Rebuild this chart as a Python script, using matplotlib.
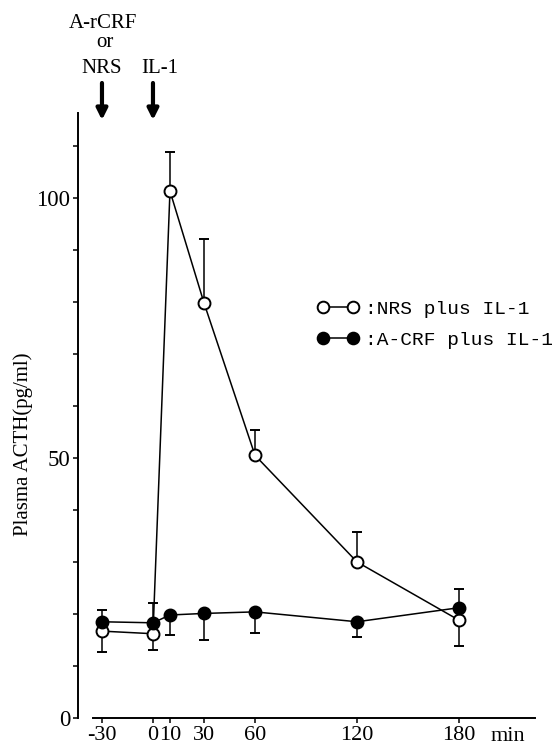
import matplotlib
matplotlib.use("Agg")
import matplotlib.pyplot as plt
from matplotlib.lines import Line2D
from matplotlib.font_manager import FontProperties
import numpy as np

plt.rcParams['font.family'] = ['Liberation Serif', 'DejaVu Serif']

# время, мин
time = [-30, 0, 10, 30, 60, 120, 180]

# NRS + IL-1 (светлые кружки)
nrs = [16.7, 16.2, 101.3, 79.8, 50.5, 30.0, 18.8]
nrs_lo = [4.0, 3.1, 0, 0, 0, 0, 5.0]
nrs_hi = [0, 0, 7.5, 12.3, 4.9, 5.8, 0]

# A-CRF + IL-1 (тёмные кружки)
acrf = [18.5, 18.3, 19.8, 20.1, 20.4, 18.5, 21.2]
acrf_lo = [0, 0, 3.8, 5.1, 4.1, 2.9, 0]
acrf_hi = [2.3, 3.8, 0, 0, 0, 0, 3.6]

yticks = list(range(0, 111, 10))
ylabels = ['0', '', '', '', '', '50', '', '', '', '', '100', '']
xticks = [-30, 0, 10, 30, 60, 120, 180]
xlabels = ['-30', '0', '10', '30', '60', '120', '180']

fig = plt.figure(figsize=(5.57, 7.49), dpi=100)
ax = fig.add_axes([78/557, 31/749, 457/557, 605/749])

ax.errorbar(time, nrs, yerr=[nrs_lo, nrs_hi], fmt='o-', color='k', mfc='white',
            mec='k', ms=8.6, mew=1.4, lw=1.1, elinewidth=1.1, capsize=3.4, capthick=1.1,
            zorder=3)
ax.errorbar(time, acrf, yerr=[acrf_lo, acrf_hi], fmt='o-', color='k', mfc='k',
            mec='k', ms=8.6, mew=1.4, lw=1.1, elinewidth=1.1, capsize=3.4, capthick=1.1,
            zorder=4)

ax.set_xlim(-44.1, 224.7)
ax.set_ylim(0, 116.3)
ax.spines['top'].set_visible(False)
ax.spines['right'].set_visible(False)
ax.spines['left'].set_linewidth(1.4)
ax.spines['bottom'].set_linewidth(1.4)
ax.spines['left'].set_bounds(0, 116.3)
ax.spines['bottom'].set_bounds(-35.3, 224.7)

ax.set_yticks(yticks)
ax.set_yticklabels(ylabels, fontsize=16.5)
ax.set_xticks(xticks)
ax.set_xticklabels(xlabels, fontsize=16)
ax.tick_params(axis='both', direction='out', length=3.6, width=1.1, pad=2)

ax.set_ylabel('Plasma ACTH(pg/ml)', fontsize=15)
ax.yaxis.set_label_coords(-0.098, 0.453)

ax.annotate('min', xy=(209, 0), xycoords=('data', 'axes fraction'),
            xytext=(0, -6.5), textcoords='offset points',
            ha='center', va='top', fontsize=16)

# стрелки введения препаратов
for xa in [-30, 0]:
    ax.annotate('', xy=(xa, 629), xycoords=('data', 'figure pixels'),
                xytext=(xa, 666), textcoords=('data', 'figure pixels'),
                arrowprops=dict(arrowstyle='-|>', lw=3, color='k',
                                mutation_scale=16, shrinkA=0, shrinkB=0))

ax.annotate('A-rCRF', xy=(-29.5, 721), xycoords=('data', 'figure pixels'),
            ha='center', va='baseline', fontsize=15, annotation_clip=False)
ax.annotate('or', xy=(-28, 702), xycoords=('data', 'figure pixels'),
            ha='center', va='baseline', fontsize=15, annotation_clip=False)
ax.annotate('NRS', xy=(-30, 676), xycoords=('data', 'figure pixels'),
            ha='center', va='baseline', fontsize=15, annotation_clip=False)
ax.annotate('IL-1', xy=(4.1, 676), xycoords=('data', 'figure pixels'),
            ha='center', va='baseline', fontsize=15, annotation_clip=False)

h_open = Line2D([], [], color='k', lw=1.1, marker='o', ms=8.4, mfc='white', mec='k', mew=1.4)
h_fill = Line2D([], [], color='k', lw=1.1, marker='o', ms=8.4, mfc='k', mec='k', mew=1.4)
ax.legend([h_open, h_fill], [':NRS plus IL-1', ':A-CRF plus IL-1'],
          loc='upper left', bbox_to_anchor=(317/557, 1 - 300/749),
          bbox_transform=fig.transFigure, frameon=False, numpoints=2,
          handlelength=2.15, handletextpad=0.3, labelspacing=0.72,
          borderpad=0, borderaxespad=0,
          prop=FontProperties(family='Liberation Mono', size=14))

plt.savefig("out.png", dpi=100)
